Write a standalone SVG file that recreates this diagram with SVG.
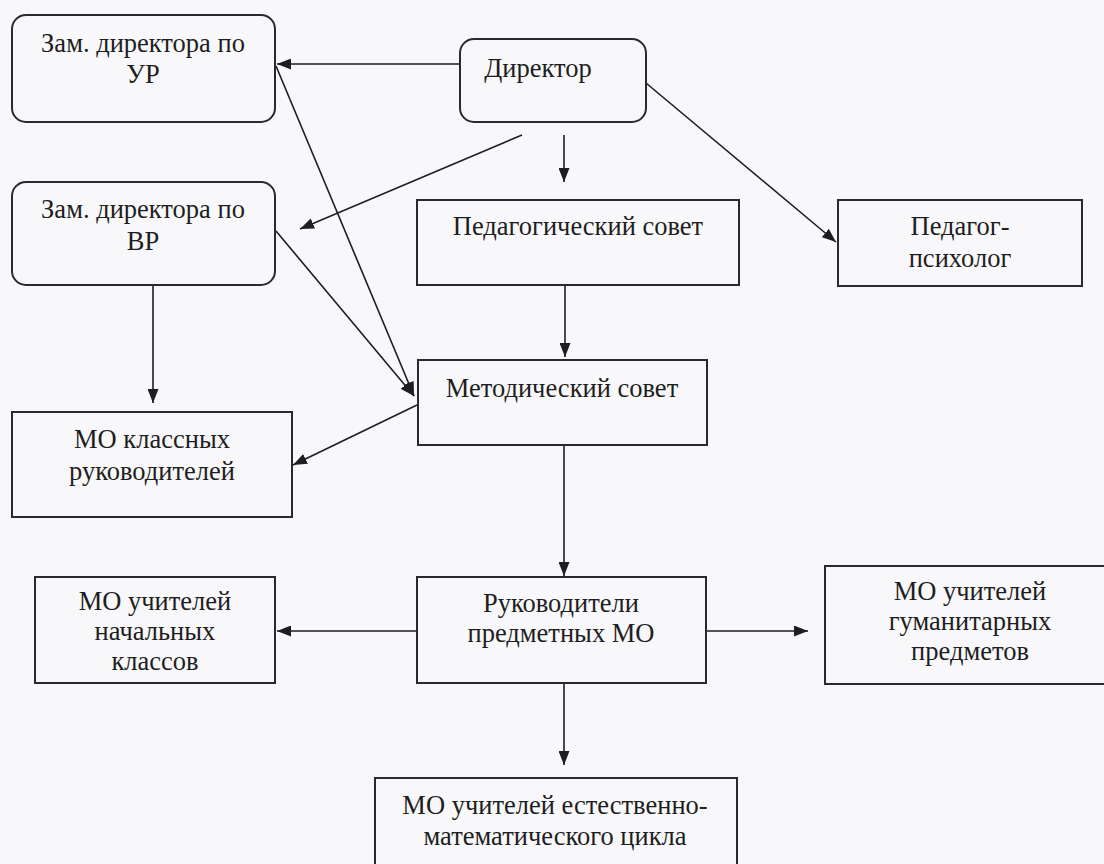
<svg xmlns="http://www.w3.org/2000/svg" width="1104" height="864" viewBox="0 0 1104 864">
<defs>
<marker id="ah" viewBox="0 0 14 11" refX="14" refY="5.5" markerWidth="14" markerHeight="11" markerUnits="userSpaceOnUse" orient="auto">
<path d="M0,0 L14,5.5 L0,11 Z" fill="#1e1e22"/>
</marker>
<style>
.box{fill:#f8f8fa;stroke:#2a2a2e;stroke-width:2}
.t{font-family:'Liberation Serif','Times New Roman',serif;font-size:26.5px;fill:#1e1e22;text-anchor:middle}
.c{stroke:#1e1e22;stroke-width:1.6;fill:none;marker-end:url(#ah)}
</style>
</defs>
<rect width="1104" height="864" fill="#f8f8fa"/>
<g id="connectors">
<line class="c" x1="460" y1="64" x2="277" y2="64"/>
<line class="c" x1="522" y1="135" x2="300" y2="229"/>
<line class="c" x1="564" y1="135" x2="564" y2="182"/>
<line class="c" x1="646" y1="83" x2="836" y2="242"/>
<line class="c" x1="276" y1="66" x2="414" y2="396"/>
<line class="c" x1="276" y1="231" x2="414" y2="396"/>
<line class="c" x1="153" y1="285" x2="153" y2="403"/>
<line class="c" x1="565" y1="285" x2="565" y2="357"/>
<line class="c" x1="417" y1="405" x2="293" y2="465"/>
<line class="c" x1="564" y1="445" x2="564" y2="576"/>
<line class="c" x1="417" y1="631" x2="277" y2="631"/>
<line class="c" x1="706" y1="631" x2="808" y2="631"/>
<line class="c" x1="564" y1="683" x2="564" y2="765"/>
</g>
<g id="zam-ur">
<rect class="box" x="12" y="15" width="263" height="107" rx="14"/>
<text class="t" x="143" y="52">Зам. директора по</text>
<text class="t" x="143" y="83">УР</text>
</g>
<g id="director">
<rect class="box" x="460" y="39" width="186" height="83" rx="14"/>
<text class="t" x="538" y="77">Директор</text>
</g>
<g id="zam-vr">
<rect class="box" x="12" y="182" width="263" height="103" rx="14"/>
<text class="t" x="143" y="218">Зам. директора по</text>
<text class="t" x="143" y="250">ВР</text>
</g>
<g id="pedsovet">
<rect class="box" x="417" y="200" width="322" height="85"/>
<text class="t" x="578" y="235">Педагогический совет</text>
</g>
<g id="psycholog">
<rect class="box" x="838" y="200" width="244" height="86"/>
<text class="t" x="960" y="235">Педагог-</text>
<text class="t" x="960" y="267">психолог</text>
</g>
<g id="metodsovet">
<rect class="box" x="418" y="360" width="289" height="85"/>
<text class="t" x="562" y="397">Методический совет</text>
</g>
<g id="mo-klass">
<rect class="box" x="12" y="412" width="280" height="105"/>
<text class="t" x="152" y="448">МО классных</text>
<text class="t" x="152" y="480">руководителей</text>
</g>
<g id="mo-nach">
<rect class="box" x="35" y="577" width="240" height="106"/>
<text class="t" x="155" y="610">МО учителей</text>
<text class="t" x="155" y="640">начальных</text>
<text class="t" x="155" y="670">классов</text>
</g>
<g id="rukovoditeli">
<rect class="box" x="417" y="577" width="289" height="106"/>
<text class="t" x="561" y="612">Руководители</text>
<text class="t" x="561" y="642">предметных МО</text>
</g>
<g id="mo-gum">
<rect class="box" x="825" y="566" width="290" height="118"/>
<text class="t" x="970" y="600">МО учителей</text>
<text class="t" x="970" y="630">гуманитарных</text>
<text class="t" x="970" y="660">предметов</text>
</g>
<g id="mo-est">
<rect class="box" x="375" y="778" width="362" height="100"/>
<text class="t" x="555" y="814">МО учителей естественно-</text>
<text class="t" x="555" y="845">математического цикла</text>
</g>
</svg>
